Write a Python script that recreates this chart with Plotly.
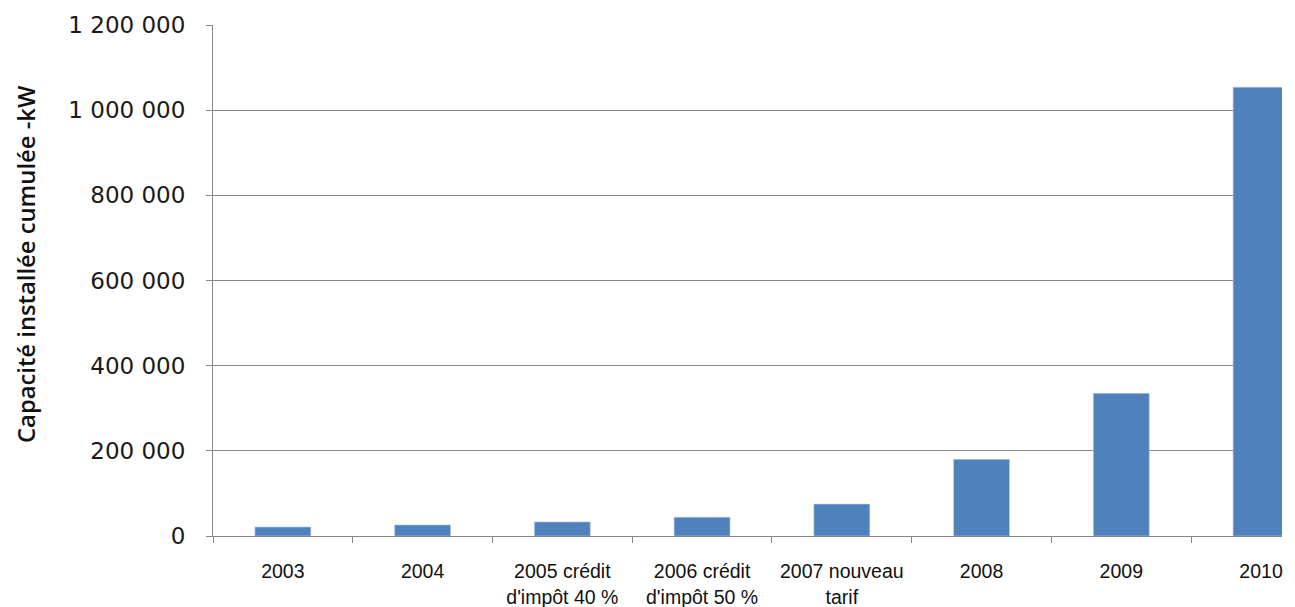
import plotly.graph_objects as go

categories = ["2003", "2004", "2005 crédit<br>d'impôt 40 %", "2006 crédit<br>d'impôt 50 %",
              "2007 nouveau<br>tarif", "2008", "2009", "2010"]
capacity_kw = [21000, 26000, 33000, 44000, 75000, 180000, 335000, 1054000]
y_ticks = [0, 200000, 400000, 600000, 800000, 1000000, 1200000]
y_title = "Capacité installée cumulée -kW"

BAR = "#4F81BD"
GRID = "#878787"

# the page body has an 8px offset; figure coordinates = page coordinates - 8
W, H = 1287, 599
L, R, T, B = 205, 13, 17, 71

fig = go.Figure()
fig.add_trace(go.Bar(
    x=categories, y=capacity_kw,
    marker=dict(color=BAR, line=dict(color="#b9cde5", width=0.6)),
    width=0.4,
))

fig.update_layout(
    width=W, height=H,
    margin=dict(l=L, r=R, t=T, b=B, autoexpand=False),
    paper_bgcolor="white", plot_bgcolor="white",
    separators=", ",
    showlegend=False,
    xaxis=dict(
        type="category",
        range=[-0.5, 7.15],
        automargin=False,
        showline=True, linecolor=GRID, linewidth=1,
        ticks="outside", tickson="boundaries", ticklen=6, tickcolor=GRID,
        tickfont=dict(family="Liberation Sans", size=19.5, color="#111111"),
        ticklabelstandoff=18,
        showgrid=False,
        fixedrange=True,
    ),
    yaxis=dict(
        range=[0, 1200000],
        automargin=False,
        tickvals=y_ticks,
        tickformat=",d",
        showline=True, linecolor=GRID, linewidth=1,
        ticks="outside", ticklen=6, tickcolor=GRID,
        showgrid=True, gridcolor=GRID, gridwidth=1,
        zeroline=False,
        tickfont=dict(family="DejaVu Sans", size=23, color="#1a1a1a"),
        ticklabelstandoff=16,
    ),
    annotations=[dict(
        text=y_title, textangle=-90,
        xref="paper", yref="paper",
        x=(18 - L) / (W - L - R), y=(H - B - 256) / (H - B - T),
        xanchor="center", yanchor="middle", showarrow=False,
        font=dict(family="Open Sans", size=23.8, color="#111111", weight=600),
    )],
)

fig.write_html("out.html")
